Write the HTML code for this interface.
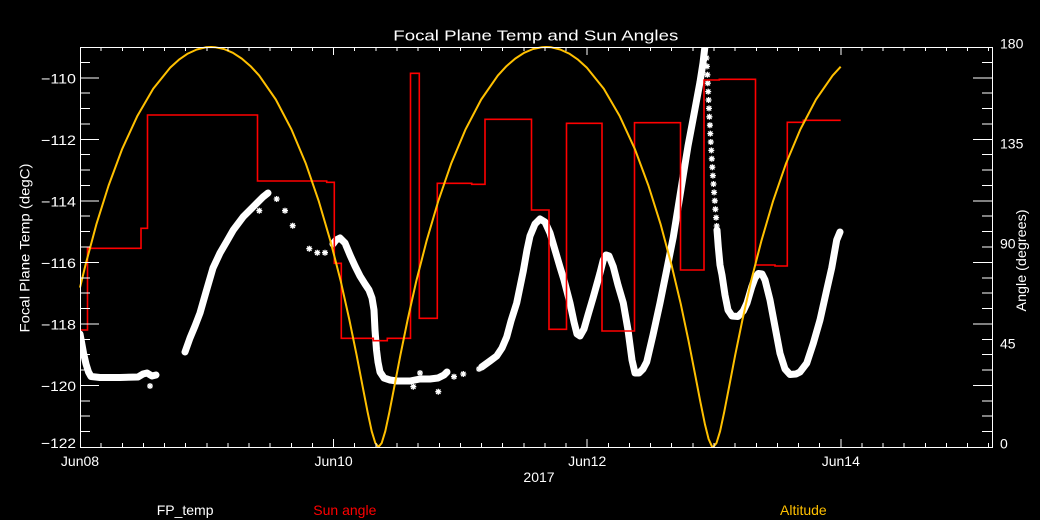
<!DOCTYPE html>
<html>
<head>
<meta charset="utf-8">
<style>
html,body{margin:0;padding:0;background:#000;}
svg{display:block;}
</style>
</head>
<body>
<svg xmlns="http://www.w3.org/2000/svg" width="1040" height="520" viewBox="0 0 1040 520">
<rect x="0" y="0" width="1040" height="520" fill="#000"/>
<defs>
<clipPath id="plot"><rect x="80" y="47" width="912" height="400"/></clipPath>
</defs>

<!-- Title -->
<text x="535.8" y="40.7" fill="#fff" font-family="Liberation Sans, sans-serif" font-size="15" text-anchor="middle" textLength="285" lengthAdjust="spacingAndGlyphs">Focal Plane Temp and Sun Angles</text>

<!-- FP_temp white band -->
<g clip-path="url(#plot)" fill="none" stroke="#fff" stroke-width="7" stroke-linejoin="round" stroke-linecap="round">
<polyline points="80,334 81.5,342 83.5,353 86,364 88.5,372 91,376.5 100,377.5 120,377.5 138,377 143,374 147,373 152,376 156,375"/>
<polyline points="185,352 190,338 195,326 200,313 206,292 213,268 220,253 227,241 233.3,230 243.3,216.7 253.3,206.7 263.3,196.7 268,193"/>
<polyline points="333,244 336,240 340,238 345,243 350,255 355,266 360,276 365,284 369,290 372,298 374,310 375,330 376.5,350 378,362 380,372 384,378 390,380 397,381 410,381 420,379 430,379 438,378 444,375 447,372"/>
<polyline points="481.7,367 490,361 496.7,356 502,348 506.7,337 511,321 516.7,303 520,287 523.3,271 527,250 530,236 535,224 540,219 545,222 550,233 555,250 560,267 564,280 570,303 574,322 577,334 580,336 584,329 588,315 593.3,297 600,273 603.3,260 606,255 609,256 613.3,266.7 618,285 623.3,303 628,330 632,360 635,373 639,373 643,369 646.7,362 653,335 660,303 666.7,270 673.3,237 678,208 683.3,175 688,146 693.3,118 700,82 703,63 705,46"/>
<polyline points="717,230 718.3,247 720,265 722,275 725,295 728,310 732,316 738,316.5 743.3,311 747,303 751.7,287 755,278 758.3,273.5 762,274 765,280 770,300 775,326.7 780,353.3 785,369 790,374.5 796,374 800,372 806.7,363.3 813.3,343.3 820,320 826.7,290 831.7,268 836.7,240 840,232"/>
</g>

<!-- sparse asterisks -->
<path fill="none" stroke="#fff" stroke-width="1.3" d="
M147 386h6M150 383v6M147.8 383.8l4.4 4.4M147.8 388.2l4.4 -4.4
M256.3 210.7h6M259.3 207.7v6M257.1 208.5l4.4 4.4M257.1 212.9l4.4 -4.4
M273.7 199h6M276.7 196v6M274.5 196.8l4.4 4.4M274.5 201.2l4.4 -4.4
M282 210.7h6M285 207.7v6M282.8 208.5l4.4 4.4M282.8 212.9l4.4 -4.4
M289.7 225.7h6M292.7 222.7v6M290.5 223.5l4.4 4.4M290.5 227.9l4.4 -4.4
M306.3 248.7h6M309.3 245.7v6M307.1 246.5l4.4 4.4M307.1 250.9l4.4 -4.4
M314.3 252.7h6M317.3 249.7v6M315.1 250.5l4.4 4.4M315.1 254.9l4.4 -4.4
M322 252.7h6M325 249.7v6M322.8 250.5l4.4 4.4M322.8 254.9l4.4 -4.4
M410.3 386.7h6M413.3 383.7v6M411.1 384.5l4.4 4.4M411.1 388.9l4.4 -4.4
M417 373h6M420 370v6M417.8 370.8l4.4 4.4M417.8 375.2l4.4 -4.4
M435.3 391.7h6M438.3 388.7v6M436.1 389.5l4.4 4.4M436.1 393.9l4.4 -4.4
M451 376.7h6M454 373.7v6M451.8 374.5l4.4 4.4M451.8 378.9l4.4 -4.4
M460.3 374h6M463.3 371v6M461.1 371.8l4.4 4.4M461.1 376.2l4.4 -4.4
M476 369h6M479 366v6M476.8 366.8l4.4 4.4M476.8 371.2l4.4 -4.4
M703.5 58h6M706.5 55v6M704.3 55.8l4.4 4.4M704.3 60.2l4.4 -4.4
M704 66.4h6M707 63.4v6M704.8 64.2l4.4 4.4M704.8 68.6l4.4 -4.4
M704.4 74.8h6M707.4 71.8v6M705.2 72.6l4.4 4.4M705.2 77l4.4 -4.4
M704.8 83.2h6M707.8 80.2v6M705.6 81l4.4 4.4M705.6 85.4l4.4 -4.4
M705.2 91.6h6M708.2 88.6v6M706 89.4l4.4 4.4M706 93.8l4.4 -4.4
M705.6 100h6M708.6 97v6M706.4 97.8l4.4 4.4M706.4 102.2l4.4 -4.4
M706 108.4h6M709 105.4v6M706.8 106.2l4.4 4.4M706.8 110.6l4.4 -4.4
M706.4 116.8h6M709.4 113.8v6M707.2 114.6l4.4 4.4M707.2 119l4.4 -4.4
M706.9 125.2h6M709.9 122.2v6M707.7 123l4.4 4.4M707.7 127.4l4.4 -4.4
M707.3 133.6h6M710.3 130.6v6M708.1 131.4l4.4 4.4M708.1 135.8l4.4 -4.4
M707.8 142h6M710.8 139v6M708.6 139.8l4.4 4.4M708.6 144.2l4.4 -4.4
M708.3 150.4h6M711.3 147.4v6M709.1 148.2l4.4 4.4M709.1 152.6l4.4 -4.4
M708.8 158.8h6M711.8 155.8v6M709.6 156.6l4.4 4.4M709.6 161l4.4 -4.4
M709.3 167.2h6M712.3 164.2v6M710.1 165l4.4 4.4M710.1 169.4l4.4 -4.4
M709.9 175.6h6M712.9 172.6v6M710.7 173.4l4.4 4.4M710.7 177.8l4.4 -4.4
M710.5 184h6M713.5 181v6M711.3 181.8l4.4 4.4M711.3 186.2l4.4 -4.4
M711.1 192.4h6M714.1 189.4v6M711.9 190.2l4.4 4.4M711.9 194.6l4.4 -4.4
M711.8 200.8h6M714.8 197.8v6M712.6 198.6l4.4 4.4M712.6 203l4.4 -4.4
M712.4 209.2h6M715.4 206.2v6M713.2 207l4.4 4.4M713.2 211.4l4.4 -4.4
M713.1 217.6h6M716.1 214.6v6M713.9 215.4l4.4 4.4M713.9 219.8l4.4 -4.4
M713.7 226h6M716.7 223v6M714.5 223.8l4.4 4.4M714.5 228.2l4.4 -4.4
"/>

<!-- Sun angle (red) -->
<path fill="none" stroke="#ff0000" stroke-width="1.6" d="M80 330H87.5V248.3H141V228.3H147.5V115H257.5V181H326.7V182.3H334.3V263.3H341.3V338.3H373.3V340.7H387.3V338.3H410.5V73.3H419.3V318.3H437.3V183.3H471.7V184.3H485V119.3H531.5V210H549V329.3H566.5V123.3H602V331H634.5V122.7H680.5V270H704V80H719.3V79.3H755.5V265H775V266H787.3V122.3H803.3V120.3H840.7"/>

<!-- Altitude (orange) -->
<polyline fill="none" stroke="#ffc000" stroke-width="2" stroke-linejoin="round" points="80,287.6 85.6,264.5 96.3,224.6 108.6,185.5 122.2,148.9 137.2,116.3 153.2,88.8 170.2,67.6 178.9,59.7 187.8,53.6 196.8,49.5 205.8,47.3 211.1,47 214.9,47.2 223.9,49 232.9,52.8 241.8,58.6 250.6,66.2 259.2,75.6 275.8,99.5 291.4,129.3 305.9,163.8 318.9,201.6 330.5,241.2 340.7,281 349.3,319.5 356.6,355.1 362.6,386.3 367.6,412.1 371.7,431.2 375.3,443 378.5,447 381.7,443 385.3,431.2 389.4,412.1 394.4,386.3 400.4,355.1 407.7,319.5 416.3,281 426.5,241.2 438.1,201.6 451.1,163.8 465.6,129.3 481.2,99.5 497.8,75.6 506.4,66.2 515.2,58.6 524.1,52.8 533.1,49 542.1,47.2 545.9,47 551.2,47.3 560.2,49.5 569.2,53.6 578.1,59.7 586.8,67.6 603.8,88.8 619.8,116.3 634.8,148.9 648.4,185.5 660.7,224.6 671.4,264.5 680.7,303.7 688.5,340.7 695,373.9 700.4,402.1 704.9,424.1 708.6,439 711.9,446.3 713.3,447 716.5,443 720.1,431.2 724.2,412.1 729.2,386.3 735.2,355.1 742.5,319.5 751.1,281 761.3,241.2 772.9,201.6 785.9,163.8 800.4,129.3 816,99.5 832.6,75.6 840.7,66.7"/>

<!-- Axes box -->
<rect x="80.5" y="47.5" width="912" height="400" fill="none" stroke="#fff" stroke-width="1" shape-rendering="crispEdges"/>

<!-- Ticks -->
<path fill="none" stroke="#fff" stroke-width="1" shape-rendering="crispEdges" d="
M80 431.6h10M80 416.2h10M80 400.8h10M80 385.5h19M80 370.1h10M80 354.7h10M80 339.3h10M80 323.9h19M80 308.5h10M80 293.2h10M80 277.8h10M80 262.4h19M80 247h10M80 231.6h10M80 216.2h10M80 200.8h19M80 185.5h10M80 170.1h10M80 154.7h10M80 139.3h19M80 123.9h10M80 108.5h10M80 93.2h10M80 77.8h19M80 62.4h10
M992 431.6h-10M992 416.2h-10M992 400.8h-10M992 385.5h-19M992 370.1h-10M992 354.7h-10M992 339.3h-10M992 323.9h-19M992 308.5h-10M992 293.2h-10M992 277.8h-10M992 262.4h-19M992 247h-10M992 231.6h-10M992 216.2h-10M992 200.8h-19M992 185.5h-10M992 170.1h-10M992 154.7h-10M992 139.3h-19M992 123.9h-10M992 108.5h-10M992 93.2h-10M992 77.8h-19M992 62.4h-10
M101.1 447v-4M122.3 447v-4M143.4 447v-4M164.5 447v-4M185.7 447v-4M206.8 447v-4M227.9 447v-4M249.1 447v-4M270.2 447v-4M291.3 447v-4M312.5 447v-4M333.6 447v-8M354.7 447v-4M375.9 447v-4M397 447v-4M418.1 447v-4M439.3 447v-4M460.4 447v-4M481.5 447v-4M502.7 447v-4M523.8 447v-4M544.9 447v-4M566.1 447v-4M587.2 447v-8M608.3 447v-4M629.5 447v-4M650.6 447v-4M671.7 447v-4M692.9 447v-4M714 447v-4M735.1 447v-4M756.3 447v-4M777.4 447v-4M798.5 447v-4M819.7 447v-4M840.8 447v-8M861.9 447v-4M883.1 447v-4M904.2 447v-4M925.3 447v-4M946.5 447v-4M967.6 447v-4M988.7 447v-4
M101.1 47v4M122.3 47v4M143.4 47v4M164.5 47v4M185.7 47v4M206.8 47v4M227.9 47v4M249.1 47v4M270.2 47v4M291.3 47v4M312.5 47v4M333.6 47v8M354.7 47v4M375.9 47v4M397 47v4M418.1 47v4M439.3 47v4M460.4 47v4M481.5 47v4M502.7 47v4M523.8 47v4M544.9 47v4M566.1 47v4M587.2 47v8M608.3 47v4M629.5 47v4M650.6 47v4M671.7 47v4M692.9 47v4M714 47v4M735.1 47v4M756.3 47v4M777.4 47v4M798.5 47v4M819.7 47v4M840.8 47v8M861.9 47v4M883.1 47v4M904.2 47v4M925.3 47v4M946.5 47v4M967.6 47v4M988.7 47v4
"/>

<!-- Left axis labels -->
<g fill="#fff" font-family="Liberation Sans, sans-serif" font-size="14" text-anchor="end">
<text x="76" y="83.5" textLength="35" lengthAdjust="spacingAndGlyphs">−110</text>
<text x="76" y="145" textLength="35" lengthAdjust="spacingAndGlyphs">−112</text>
<text x="76" y="206.5" textLength="35" lengthAdjust="spacingAndGlyphs">−114</text>
<text x="76" y="268" textLength="35" lengthAdjust="spacingAndGlyphs">−116</text>
<text x="76" y="329.5" textLength="35" lengthAdjust="spacingAndGlyphs">−118</text>
<text x="76" y="391" textLength="35" lengthAdjust="spacingAndGlyphs">−120</text>
<text x="76" y="448" textLength="35" lengthAdjust="spacingAndGlyphs">−122</text>
</g>

<!-- Right axis labels -->
<g fill="#fff" font-family="Liberation Sans, sans-serif" font-size="14" text-anchor="start">
<text x="1000" y="48.3">180</text>
<text x="1000" y="148.3">135</text>
<text x="1000" y="248.3">90</text>
<text x="1000" y="348.3">45</text>
<text x="1000" y="448.3">0</text>
</g>

<!-- Bottom labels -->
<g fill="#fff" font-family="Liberation Sans, sans-serif" font-size="14" text-anchor="middle">
<text x="80" y="466">Jun08</text>
<text x="333.6" y="466">Jun10</text>
<text x="587.2" y="466">Jun12</text>
<text x="840.8" y="466">Jun14</text>
<text x="539" y="482">2017</text>
</g>

<!-- Axis titles -->
<text transform="translate(29.5,248) rotate(-90)" fill="#fff" font-family="Liberation Sans, sans-serif" font-size="14" text-anchor="middle" textLength="169" lengthAdjust="spacingAndGlyphs">Focal Plane Temp (degC)</text>
<text transform="translate(1026,260.5) rotate(-90)" fill="#fff" font-family="Liberation Sans, sans-serif" font-size="14" text-anchor="middle" textLength="102" lengthAdjust="spacingAndGlyphs">Angle (degrees)</text>

<!-- Legend -->
<g font-family="Liberation Sans, sans-serif" font-size="14">
<text x="156.7" y="515" fill="#fff">FP_temp</text>
<text x="313.3" y="515" fill="#ff0000">Sun angle</text>
<text x="780" y="515" fill="#ffc000">Altitude</text>
</g>
</svg>
</body>
</html>
